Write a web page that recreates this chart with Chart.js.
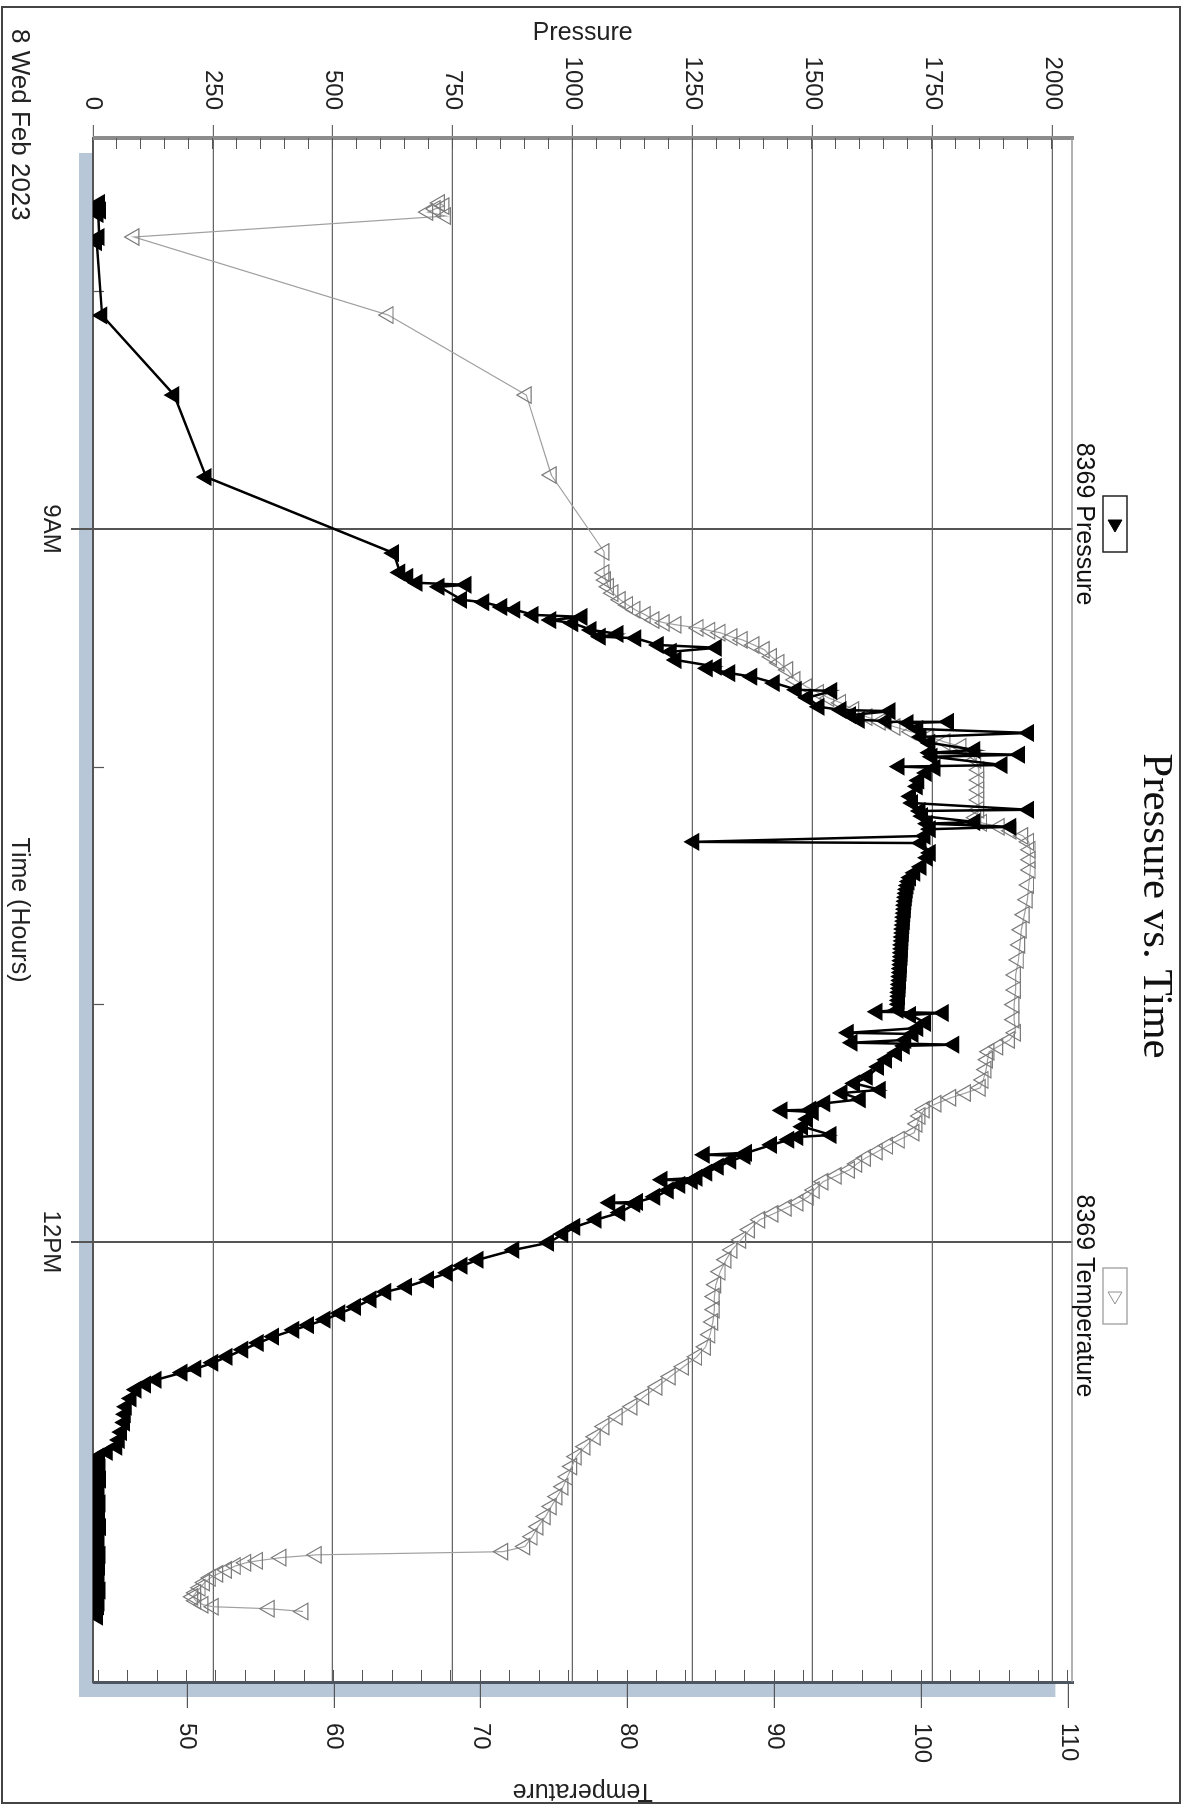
<!DOCTYPE html>
<html>
<head>
<meta charset="utf-8">
<title>Pressure vs. Time</title>
<script src="https://cdn.jsdelivr.net/npm/chart.js@4.4.0/dist/chart.umd.min.js"></script>
<style>
  html, body { margin: 0; padding: 0; background: #fff; }
  .page { position: relative; width: 1199px; height: 1812px; overflow: hidden; }
  /* the chart is drawn landscape and turned a quarter clockwise, like the scan */
  #chart { position: absolute; left: 0; top: 0; transform-origin: 0 0; transform: translateX(1199px) rotate(90deg); }
</style>
</head>
<body>
<div class="page"><canvas id="chart" width="1812" height="1199"></canvas></div>
<script>
// time is minutes after midnight, 8 Feb 2023
const timeTicks = [480, 540, 600, 660, 720, 780]
const timeLabels = ['', '9AM', '', '', '12PM', '']
const pressureTicks = [0, 250, 500, 750, 1000, 1250, 1500, 1750, 2000]
const tempTicks = [50, 60, 70, 80, 90, 100, 110]

const pressureTime = [
  457.7, 458.6, 459.6, 460.5, 466.3, 467.6, 486.1, 506.2, 526.9, 546.1,
  551.0, 552.1, 553.6, 554.1, 554.6, 557.9, 558.5, 559.7, 560.4, 561.7,
  562.2, 563.0, 563.8, 565.5, 566.5, 567.2, 567.6, 569.3, 570.0, 571.0,
  573.1, 574.8, 575.2, 576.4, 577.3, 578.9, 580.6, 580.9, 582.6, 584.9,
  585.7, 586.0, 587.0, 588.2, 588.5, 588.7, 589.0, 590.5, 591.5, 592.5,
  594.0, 595.8, 596.5, 597.0, 597.5, 599.6, 600.0, 600.3, 601.6, 603.5,
  605.0, 607.5, 609.2, 610.9, 611.2, 612.5, 614.0, 614.4, 615.2, 615.8,
  617.5, 619.0, 619.3, 621.8, 623.0, 625.3, 626.8, 628.0, 629.0, 630.0,
  631.0, 632.0, 633.0, 634.0, 635.0, 636.0, 637.0, 638.0, 639.0, 640.0,
  641.0, 642.0, 643.0, 644.0, 645.0, 646.0, 647.0, 648.0, 649.0, 650.0,
  651.0, 652.0, 653.0, 654.0, 655.0, 656.0, 657.0, 658.0, 659.0, 660.0,
  661.4, 661.9, 662.2, 662.7, 664.7, 666.0, 667.2, 667.5, 669.0, 669.7,
  670.2, 670.5, 672.3, 674.0, 675.8, 678.3, 680.0, 681.6, 682.4, 684.0,
  685.0, 686.6, 686.8, 687.2, 689.0, 690.9, 693.0, 693.5, 694.2, 695.5,
  697.5, 698.0, 698.3, 699.5, 701.0, 702.5, 703.8, 704.3, 704.6, 705.6,
  707.0, 708.6, 709.9, 710.1, 710.4, 712.6, 714.4, 716.2, 718.0, 720.2,
  722.0, 724.5, 726.0, 727.8, 729.5, 731.3, 732.6, 734.5, 736.4, 738.0,
  739.6, 741.0, 742.2, 743.9, 745.5, 747.2, 749.0, 750.5, 752.0, 753.0,
  754.8, 756.0, 757.3, 759.5, 761.6, 763.5, 765.6, 768.0, 770.0, 771.7,
  773.0, 774.2, 775.0, 776.0, 777.0, 778.0, 779.0, 780.0, 781.0, 782.0,
  783.0, 784.0, 785.0, 786.0, 787.0, 788.0, 789.0, 790.0, 791.0, 792.0,
  793.0, 794.0, 795.0, 796.0, 797.0, 798.0, 799.0, 800.0, 801.0, 802.0,
  803.0, 804.0, 805.0, 806.0, 807.0, 808.0, 809.0, 810.0, 811.0, 812.0,
  813.0, 814.6
]
const pressure = [
  14, 9, 16, 11, 13, 8, 19, 169, 236, 627,
  640, 657, 676, 778, 722, 769, 815, 853, 880, 918,
  1020, 955, 1001, 1039, 1095, 1058, 1132, 1179, 1300, 1206,
  1216, 1300, 1281, 1328, 1374, 1421, 1467, 1541, 1490, 1514,
  1560, 1662, 1580, 1598, 1654, 1784, 1700, 1720, 1951, 1727,
  1745, 1839, 1745, 1932, 1750, 1896, 1681, 1756, 1738, 1722,
  1719, 1705, 1709, 1951, 1725, 1730, 1839, 1740, 1914, 1746,
  1735, 1253, 1727, 1746, 1740, 1727, 1714, 1705, 1702, 1700,
  1698, 1697, 1696, 1695, 1694, 1694, 1693, 1692, 1692, 1691,
  1690, 1690, 1689, 1689, 1688, 1688, 1687, 1687, 1686, 1686,
  1685, 1685, 1684, 1684, 1683, 1683, 1682, 1682, 1681, 1681,
  1679, 1635, 1773, 1705, 1736, 1720, 1575, 1710, 1695, 1583,
  1795, 1692, 1676, 1655, 1638, 1615, 1588, 1642, 1562, 1600,
  1526, 1497, 1437, 1502, 1490, 1480, 1539, 1470, 1451, 1415,
  1363, 1275, 1360, 1330, 1304, 1280, 1260, 1187, 1250, 1224,
  1200, 1172, 1136, 1078, 1130, 1099, 1049, 1005, 980, 950,
  878, 803, 770, 739, 700, 654, 611, 580, 548, 515,
  484, 450, 419, 377, 345, 313, 280, 250, 215, 186,
  132, 110, 90, 80, 70, 68, 66, 60, 55, 50,
  30, 12, 14, 10, 15, 9, 12, 16, 11, 10,
  13, 8, 12, 15, 10, 11, 14, 9, 12, 16,
  10, 12, 8, 13, 11, 10, 15, 12, 9, 14,
  11, 9, 13, 10, 12, 15, 8, 11, 13, 12,
  9, 10
]

const tempTime = [
  457.7, 458.5, 459.2, 460.0, 461.0, 466.3, 486.0, 506.2, 526.4, 545.8,
  551.1, 552.9, 554.6, 556.2, 557.9, 559.2, 560.4, 561.7, 563.0, 563.7,
  564.2, 565.0, 565.7, 566.2, 567.3, 568.0, 569.3, 570.5, 572.3, 573.8,
  575.6, 578.1, 579.9, 581.4, 582.7, 583.9, 585.7, 587.5, 588.7, 590.0,
  591.2, 592.5, 593.8, 595.0, 596.5, 598.3, 600.8, 603.4, 605.9, 608.4,
  610.9, 612.9, 614.2, 615.2, 616.2, 617.5, 619.0, 621.0, 623.5, 626.1,
  629.9, 633.6, 637.4, 641.2, 645.0, 648.8, 652.6, 656.4, 660.1, 663.9,
  667.2, 669.0, 670.7, 672.0, 674.0, 676.5, 679.1, 681.1, 682.4, 683.6,
  685.1, 686.6, 688.2, 690.2, 692.4, 694.2, 695.7, 697.2, 698.8, 700.3,
  701.8, 703.3, 704.8, 706.9, 708.6, 710.1, 711.4, 712.9, 714.4, 716.9,
  719.5, 722.0, 724.5, 727.5, 730.8, 733.8, 737.1, 740.2, 743.4, 746.5,
  749.0, 751.5, 754.0, 756.6, 759.1, 761.6, 764.1, 766.6, 769.2, 771.7,
  774.2, 776.7, 779.3, 781.8, 784.3, 786.8, 789.3, 791.9, 794.4, 796.9,
  798.2, 799.0, 799.7, 800.5, 801.0, 801.8, 802.8, 803.8, 804.8, 806.0,
  807.3, 808.6, 809.6, 810.6, 811.6, 812.1, 812.6, 813.3
]
const temperature = [
  67.2, 67.5, 66.9, 66.4, 67.6, 46.4, 63.7, 73.1, 74.8, 78.4,
  78.4, 78.5, 78.7, 79.0, 79.5, 80.0, 80.5, 81.2, 81.8, 82.5,
  83.3, 84.8, 85.6, 86.3, 87.1, 87.8, 88.6, 89.3, 89.8, 90.3,
  90.9, 91.4, 92.2, 93.0, 93.7, 94.5, 95.4, 96.3, 97.2, 98.2,
  99.3, 100.5, 101.6, 102.7, 103.4, 103.7, 103.9, 103.9, 103.9, 103.9,
  103.9, 103.7, 104.1, 105.3, 106.1, 106.9, 107.3, 107.4, 107.4, 107.4,
  107.3, 107.2, 107.0, 106.8, 106.7, 106.6, 106.4, 106.4, 106.3, 106.3,
  106.4, 106.0, 105.2, 104.6, 104.5, 104.4, 104.2, 104.0, 103.0, 102.0,
  101.0, 100.2, 99.9, 99.7, 99.5, 98.5, 97.7, 97.0, 96.2, 95.6,
  95.1, 94.2, 93.3, 92.7, 92.3, 91.6, 90.8, 89.9, 89.0, 88.3,
  87.7, 87.1, 86.7, 86.3, 86.0, 85.9, 85.9, 85.8, 85.6, 85.3,
  84.7, 83.8, 82.9, 82.0, 81.1, 80.3, 79.3, 78.4, 77.8, 77.1,
  76.5, 76.2, 75.9, 75.6, 75.2, 74.8, 74.4, 73.9, 73.5, 73.0,
  71.5, 58.8, 56.4, 54.8, 54.0, 53.3, 52.7, 52.1, 51.6, 51.2,
  50.9, 50.6, 50.4, 50.6, 51.1, 51.8, 55.6, 57.9
]

const sansFont = '"Liberation Sans", Arial, sans-serif'
Chart.defaults.font.family = sansFont
Chart.defaults.color = '#222'

// white sheet, frame, drop shadow of the plot, minor ticks, legend boxes
const sheet = {
  id: 'sheet',
  beforeDraw(chart) {
    const { ctx, chartArea: a } = chart
    ctx.save()
    ctx.fillStyle = '#fff'
    ctx.fillRect(0, 0, chart.width, chart.height)
    ctx.fillStyle = '#b8c7d7'
    ctx.fillRect(a.left + 15, a.top + 17, a.width, a.height - 3)
    ctx.fillStyle = '#fff'
    ctx.fillRect(a.left, a.top, a.width, a.height)
    ctx.restore()
  },
  beforeDatasetsDraw(chart) {
    const { ctx, chartArea: a, scales } = chart
    ctx.save()
    ctx.strokeStyle = '#555'
    ctx.lineWidth = 1.2
    ctx.beginPath()
    for (let v = 0; v <= 2000; v += 50) {
      const y = Math.round(scales.y.getPixelForValue(v)) + 0.5
      ctx.moveTo(a.left, y); ctx.lineTo(a.left + 11, y)
    }
    for (let v = 44; v <= 110; v += 2) {
      const y = Math.round(scales.y1.getPixelForValue(v)) + 0.5
      ctx.moveTo(a.right - 12, y); ctx.lineTo(a.right, y)
    }
    timeTicks.forEach((v, i) => {
      if (timeLabels[i]) return
      const x = Math.round(scales.x.getPixelForValue(v)) + 0.5
      ctx.moveTo(x, a.bottom - 11); ctx.lineTo(x, a.bottom)
    })
    ctx.stroke()
    // thin edge on the far side of the plot
    ctx.strokeStyle = '#999'
    ctx.lineWidth = 1.5
    ctx.beginPath()
    ctx.moveTo(a.left, a.top + 0.5); ctx.lineTo(a.right, a.top + 0.5)
    ctx.stroke()
    ctx.restore()
  },
  afterDraw(chart) {
    const { ctx, chartArea: a } = chart
    ctx.save()
    ctx.strokeStyle = '#444'
    ctx.lineWidth = 2
    ctx.strokeRect(7, 19, 1796, 1178)

    ctx.fillStyle = '#222'
    ctx.font = '26px ' + sansFont
    ctx.textAlign = 'left'
    ctx.textBaseline = 'middle'
    ctx.fillText('8 Wed Feb 2023', 29, 1180)

    const keys = [
      { ds: 0, at: 0.25, box: '#222', fill: '#000', edge: '#000' },
      { ds: 1, at: 0.75, box: '#aaa', fill: '#fff', edge: '#8f8f8f' }
    ]
    keys.forEach(k => {
      const cx = a.left + a.width * k.at
      ctx.lineWidth = 1.5
      ctx.strokeStyle = k.box
      ctx.fillStyle = '#fff'
      ctx.fillRect(cx - 28, 72, 56, 24)
      ctx.strokeRect(cx - 28, 72, 56, 24)
      ctx.fillStyle = k.fill
      ctx.strokeStyle = k.edge
      ctx.lineWidth = 1
      Chart.helpers.drawPoint(ctx, { pointStyle: 'triangle', rotation: 90, radius: 8, borderWidth: 1 }, cx, 84)
      ctx.fillStyle = '#111'
      ctx.font = '25px ' + sansFont
      ctx.textAlign = 'center'
      ctx.textBaseline = 'alphabetic'
      ctx.fillText(chart.data.datasets[k.ds].label, cx, 122)
    })
    ctx.restore()
  }
}

const isMajorTime = c => c.tick && timeLabels[timeTicks.indexOf(c.tick.value)]

new Chart(document.getElementById('chart'), {
  type: 'line',
  data: {
    datasets: [{
      label: '8369 Pressure',
      data: pressureTime.map((t, i) => ({ x: t, y: pressure[i] })),
      yAxisID: 'y',
      borderColor: '#000',
      backgroundColor: '#000',
      borderWidth: 2.5,
      pointStyle: 'triangle',
      pointRotation: 180,
      pointRadius: 9,
      pointBorderWidth: 1.5,
      pointBackgroundColor: '#000',
      pointBorderColor: '#000',
      tension: 0
    }, {
      label: '8369 Temperature',
      data: tempTime.map((t, i) => ({ x: t, y: temperature[i] })),
      yAxisID: 'y1',
      borderColor: '#a0a0a0',
      borderWidth: 1.2,
      pointStyle: 'triangle',
      pointRotation: 180,
      pointRadius: 9.5,
      pointBorderWidth: 1.2,
      pointBackgroundColor: 'rgba(255,255,255,0)',
      pointBorderColor: '#7c7c7c',
      tension: 0
    }]
  },
  options: {
    responsive: false,
    animation: false,
    devicePixelRatio: 1,
    events: [],
    layout: { padding: 0 },
    plugins: {
      legend: { display: false },
      tooltip: { enabled: false },
      title: {
        display: true,
        text: 'Pressure vs. Time',
        color: '#111',
        font: { family: '"Liberation Serif", "Times New Roman", serif', size: 43, weight: 'normal', lineHeight: 1.2 },
        padding: { top: 18, bottom: 57 }
      }
    },
    scales: {
      x: {
        type: 'linear',
        position: 'bottom',
        min: 441.3,
        max: 831.1,
        afterBuildTicks: s => { s.ticks = timeTicks.map(v => ({ value: v })) },
        afterFit: s => { s.height = 93 },
        ticks: {
          autoSkip: false,
          maxRotation: 0,
          padding: 6,
          font: { size: 24 },
          callback: v => timeLabels[timeTicks.indexOf(v)] || ''
        },
        grid: {
          color: c => isMajorTime(c) ? '#555' : 'rgba(0,0,0,0)',
          tickColor: c => isMajorTime(c) ? '#555' : 'rgba(0,0,0,0)',
          lineWidth: 2,
          tickLength: 22
        },
        border: { color: '#555', width: 2 },
        title: { display: true, text: 'Time (Hours)', font: { size: 25 }, padding: { top: 0, bottom: 4 } }
      },
      y: {
        type: 'linear',
        position: 'left',
        min: 0,
        max: 2042,
        afterBuildTicks: s => { s.ticks = pressureTicks.map(v => ({ value: v })) },
        afterFit: s => { s.width = 138 },
        ticks: { padding: 15, font: { size: 24 }, callback: v => String(v) },
        grid: { color: '#666', tickColor: '#666', lineWidth: 1.2, tickLength: 13 },
        border: { color: '#8c8c8c', width: 4 },
        title: { display: true, text: 'Pressure', font: { size: 25 }, padding: { top: 18, bottom: 0 } }
      },
      y1: {
        type: 'linear',
        position: 'right',
        min: 43.6,
        max: 110.27,
        afterBuildTicks: s => { s.ticks = tempTicks.map(v => ({ value: v })) },
        afterFit: s => { s.width = 130 },
        ticks: { padding: 15, font: { size: 24 }, callback: v => String(v) },
        grid: { drawOnChartArea: false, color: '#555', tickColor: '#555', lineWidth: 1.2, tickLength: 26 },
        border: { color: '#4d5660', width: 3 },
        title: { display: true, text: 'Temperature', font: { size: 25 }, padding: { top: 6, bottom: 0 } }
      }
    }
  },
  plugins: [sheet]
})
</script>
</body>
</html>
